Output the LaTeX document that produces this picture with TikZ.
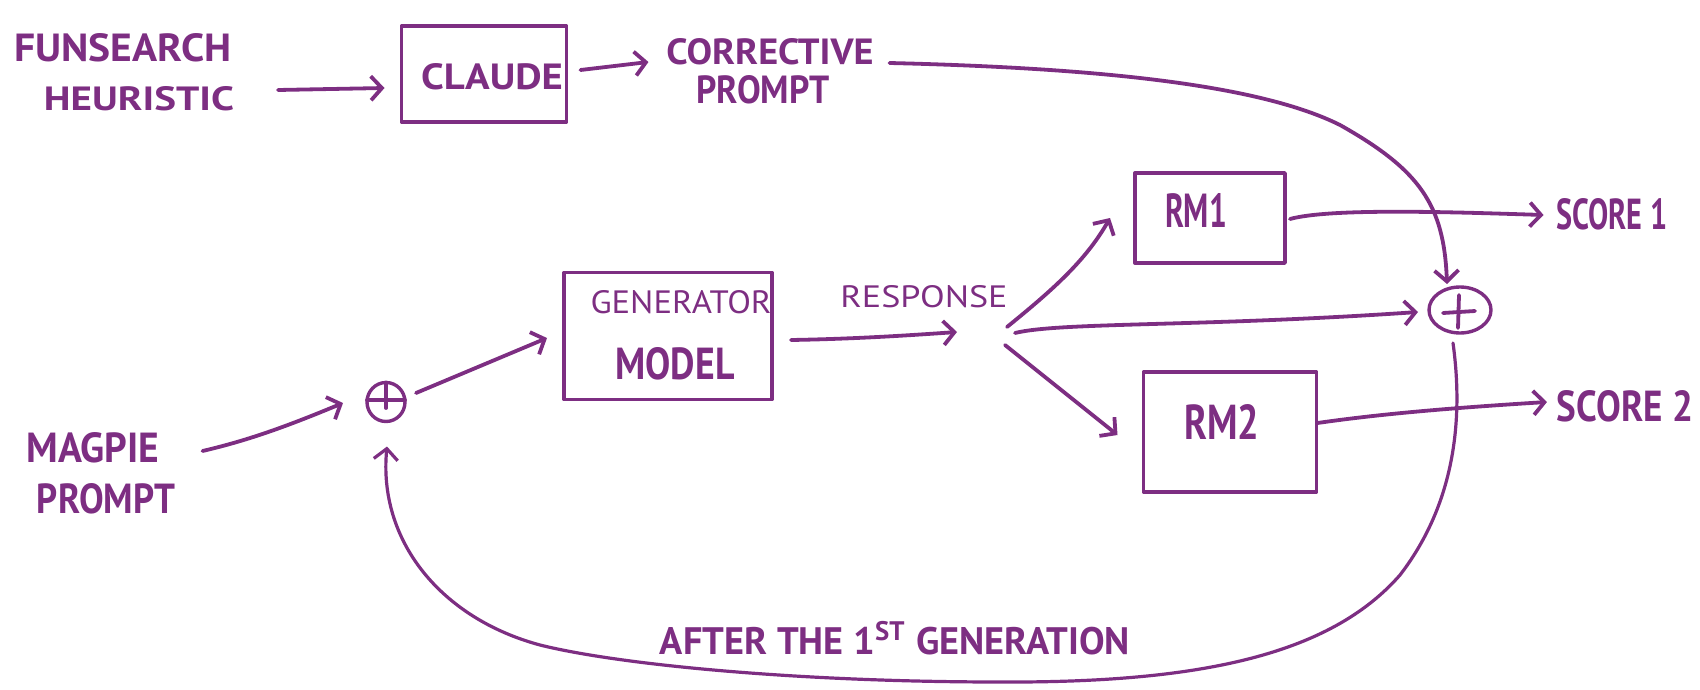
\documentclass[tikz,border=0pt]{standalone}
\usepackage{fontspec}
\setmainfont{PT Sans}
\usetikzlibrary{arrows.meta,shapes.geometric,calc}
\definecolor{ink}{RGB}{125,46,130}
\newcommand{\hw}[3]{\resizebox{#1pt}{#2pt}{#3}}
\begin{document}
\begin{tikzpicture}[x=1pt,y=-1pt,line width=3.8pt,color=ink,line cap=round,line join=round,
  lbl/.style={inner sep=0pt,outer sep=0pt,text=ink},
  boxn/.style={draw=ink,rectangle,inner sep=0pt,outer sep=0pt,line width=3.4pt},
  sumn/.style={draw=ink,ellipse,inner sep=0pt,outer sep=0pt,line width=3.4pt},
  arr/.style={draw=ink,-{Straight Barb[length=11pt,width=24pt]}}]
\useasboundingbox (0,0) rectangle (1700,690);

% text labels
\node[lbl] (funs) at (123,48) {\hw{217}{28}{\bfseries FUNSEARCH}};
\node[lbl] (heur) at (139,99) {\hw{190}{24}{\bfseries HEURISTIC}};
\node[lbl] (corr) at (770,52) {\hw{207}{26}{\bfseries CORRECTIVE}};
\node[lbl] (cprompt) at (763,90) {\hw{133}{28}{\bfseries PROMPT}};
\node[lbl] (resp) at (924,297) {\hw{167}{22}{RESPONSE}};
\node[lbl] (s1) at (1612,214) {\hw{111}{31}{\bfseries SCORE 1}};
\node[lbl] (s2) at (1625,406) {\hw{136}{31}{\bfseries SCORE 2}};
\node[lbl] (magpie) at (93,448) {\hw{133}{30}{\bfseries MAGPIE}};
\node[lbl] (mprompt) at (106,499) {\hw{138}{30}{\bfseries PROMPT}};
\node[lbl] (after) at (895,638) {\resizebox{470pt}{!}{\bfseries AFTER THE 1\textsuperscript{ST} GENERATION}};

% boxes
\node[boxn,minimum width=165pt,minimum height=96pt] (claude) at (484,74) {};
\node[lbl] (claudet) at (492,77) {\hw{142}{26}{\bfseries CLAUDE}};
\node[boxn,minimum width=208pt,minimum height=127pt] (gen) at (668,336) {};
\node[lbl] (gena) at (681,302) {\hw{181}{23}{GENERATOR}};
\node[lbl] (genb) at (675,364) {\hw{119}{32}{\bfseries MODEL}};
\node[boxn,minimum width=150pt,minimum height=90pt] (rm1) at (1210,218) {};
\node[lbl] (rm1t) at (1196,210) {\hw{62}{34}{\bfseries RM1}};
\node[boxn,minimum width=173pt,minimum height=120pt] (rm2) at (1230,432) {};
\node[lbl] (rm2t) at (1222,422) {\hw{75}{35}{\bfseries RM2}};

% summing junctions
\node[sumn,minimum width=62pt,minimum height=46pt] (plusB) at (1460,310) {};
\draw ($(plusB.center)+(-17,3)$) -- ($(plusB.center)+(15,1)$);
\draw ($(plusB.center)+(-1,-15)$) -- ($(plusB.center)+(-2,18)$);
\node[sumn,minimum width=38pt,minimum height=39pt] (plusS) at (386,402) {};
\draw ($(plusS.west)+(0,-2)$) -- ($(plusS.east)+(0,-2)$);
\draw (plusS.north) -- ($(plusS.center)+(0,6)$);

\coordinate (br) at (1008,335);

% connectors
\draw[arr] ($(heur.east)+(44,-9)$) -- ($(claude.west)+(-17,14)$);
\draw[arr] ($(claude.east)+(14,-4)$) -- ($(corr.west)+(-18,10)$);
\draw[arr] ($(corr.east)+(16,11)$) .. controls (1100,68) and (1260,85) .. (1340,125)
  .. controls (1420,170) and (1444,205) .. ($(plusB.north)+(-13,-3)$);
\draw[arr] ($(rm1.east)+(5,1)$) .. controls (1330,208) and (1450,212) .. ($(s1.west)+(-13,1)$);
\draw[arr] ($(rm2.east)+(1,-9)$) .. controls (1380,414) and (1450,408) .. ($(s2.west)+(-10,-4)$);
\draw[arr] ($(gen.east)+(19,4)$) .. controls (850,339) and (900,336) .. ($(br)+(-51,-3)$);
\draw[arr] ($(br)+(-1,-8)$) .. controls (1050,292) and (1085,262) .. ($(rm1.west)+(-25,0)$);
\draw[arr] ($(br)+(7,-2)$) .. controls (1060,322) and (1200,327) .. ($(plusB.west)+(-11,2)$);
\draw[arr] ($(br)+(-3,10)$) -- ($(rm2.west)+(-26,3)$);
\draw[arr] ($(magpie.east)+(43,3)$) .. controls (250,440) and (290,425) .. ($(plusS.west)+(-24,1)$);
\draw[arr] ($(plusS.east)+(11,-9)$) -- ($(gen.west)+(-17,2)$);
\draw[arr,line width=3.2pt] ($(plusB.south)+(-7,10)$) .. controls (1465,430) and (1450,510) .. (1400,575)
  .. controls (1330,655) and (1200,683) .. (1000,682)
  .. controls (800,682) and (620,665) .. (540,645)
  .. controls (440,618) and (378,540) .. ($(plusS.south)+(1,25)$);
\end{tikzpicture}
\end{document}
